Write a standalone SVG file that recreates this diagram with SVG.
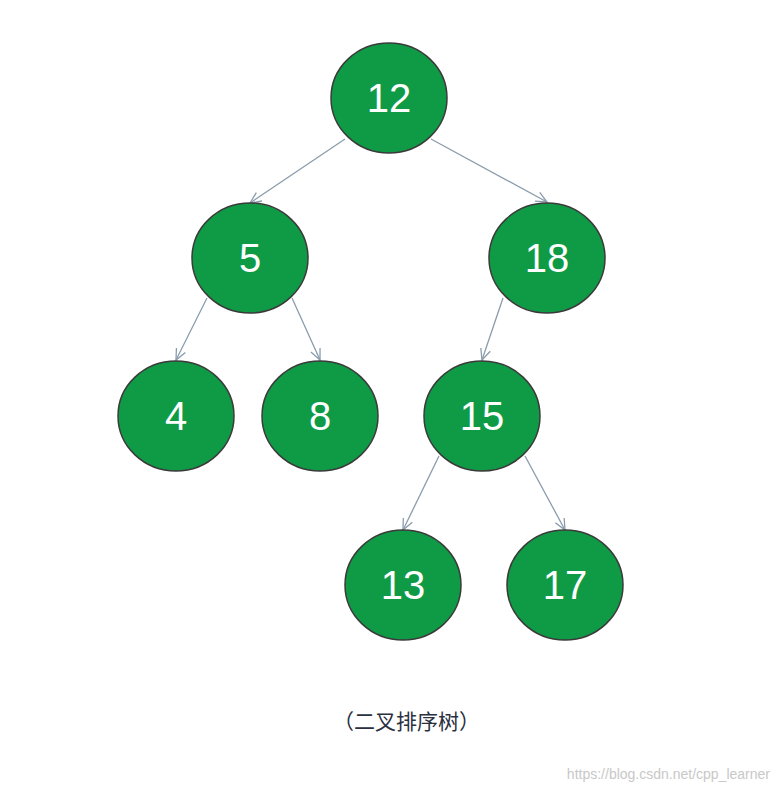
<svg xmlns="http://www.w3.org/2000/svg" width="781" height="792" viewBox="0 0 781 792">
<style>
.n ellipse{fill:#0f9b45;stroke:#3a3a3a;stroke-width:1.5}
.n text{fill:#fff;font-family:"Liberation Sans",Arial,sans-serif;font-size:40px;text-anchor:middle;dominant-baseline:central}
.e line{stroke:#8a9cac;stroke-width:1.3;marker-end:url(#a)}
</style>
<defs><marker id="a" markerWidth="14" markerHeight="14" refX="12" refY="6" orient="auto" markerUnits="userSpaceOnUse"><path d="M1,1 L12,6 L1,11" fill="none" stroke="#8a9cac" stroke-width="1.3"/></marker></defs>
<rect width="781" height="792" fill="#fff"/>
<g class="e">
<line x1="345" y1="139" x2="250" y2="203"/>
<line x1="431" y1="139" x2="547" y2="202"/>
<line x1="207" y1="298" x2="176" y2="360"/>
<line x1="292" y1="298" x2="320" y2="360"/>
<line x1="503" y1="298" x2="482" y2="360"/>
<line x1="439" y1="456" x2="403" y2="530"/>
<line x1="525" y1="456" x2="565" y2="530"/>
</g>
<g id="n12" class="n"><ellipse cx="389" cy="98" rx="58" ry="55"/><text x="389" y="98">12</text></g>
<g id="n5" class="n"><ellipse cx="250" cy="258" rx="58" ry="55"/><text x="250" y="258">5</text></g>
<g id="n18" class="n"><ellipse cx="547" cy="258" rx="58" ry="55"/><text x="547" y="258">18</text></g>
<g id="n4" class="n"><ellipse cx="176" cy="416" rx="58" ry="55"/><text x="176" y="416">4</text></g>
<g id="n8" class="n"><ellipse cx="320" cy="416" rx="58" ry="55"/><text x="320" y="416">8</text></g>
<g id="n15" class="n"><ellipse cx="482" cy="416" rx="58" ry="55"/><text x="482" y="416">15</text></g>
<g id="n13" class="n"><ellipse cx="403" cy="585" rx="58" ry="55"/><text x="403" y="585">13</text></g>
<g id="n17" class="n"><ellipse cx="565" cy="585" rx="58" ry="55"/><text x="565" y="585">17</text></g>
<text x="333" y="729" font-family="'Liberation Sans','Noto Sans CJK SC',sans-serif" font-size="21" fill="#2a3040">（二叉排序树）</text>
<text x="770" y="779" text-anchor="end" font-family="'Liberation Sans',Arial,sans-serif" font-size="14" fill="#c8c8c8">https://blog.csdn.net/cpp_learner</text>
</svg>
